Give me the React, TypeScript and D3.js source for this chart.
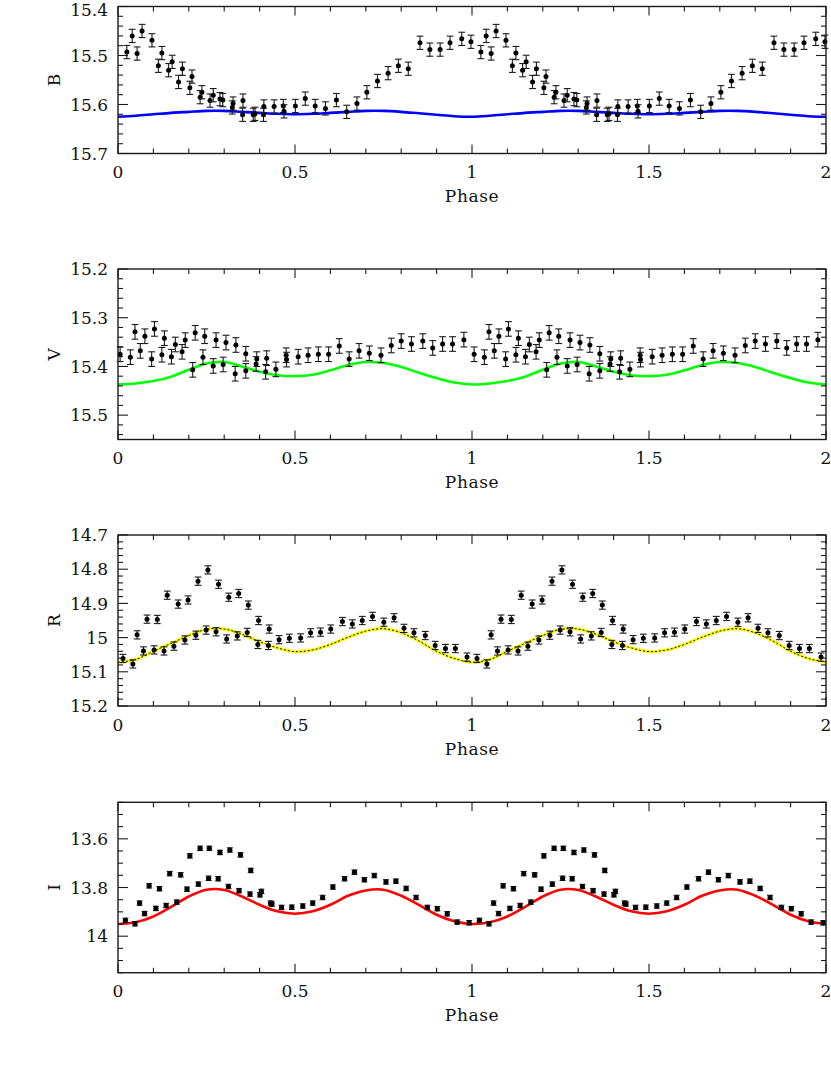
import React from "react";
import * as d3 from "d3";

const W = 831;
const H = 1092;
const X0 = 118;
const X1 = 826;
const FONT = "DejaVu Serif";

// phase-folded photometry, one cycle; the plot shows it twice (0-1 and 1-2)
const phaseB = [0.025, 0.04, 0.054, 0.068, 0.096, 0.114, 0.124, 0.143, 0.153, 0.171, 0.182, 0.203, 0.209, 0.232, 0.237, 0.26, 0.269, 0.288, 0.296, 0.323, 0.325, 0.352, 0.353, 0.382, 0.387, 0.411, 0.412, 0.441, 0.467, 0.469, 0.501, 0.529, 0.557, 0.586, 0.617, 0.646, 0.675, 0.703, 0.733, 0.763, 0.792, 0.82, 0.853, 0.881, 0.91, 0.938, 0.971, 0.997];
const magB = [15.493, 15.46, 15.496, 15.45, 15.469, 15.521, 15.495, 15.53, 15.513, 15.554, 15.527, 15.566, 15.543, 15.585, 15.575, 15.592, 15.581, 15.589, 15.591, 15.606, 15.598, 15.621, 15.592, 15.621, 15.619, 15.621, 15.604, 15.604, 15.603, 15.614, 15.603, 15.588, 15.603, 15.608, 15.591, 15.615, 15.598, 15.575, 15.552, 15.536, 15.521, 15.527, 15.474, 15.488, 15.488, 15.474, 15.466, 15.472];

const phaseV = [0.006, 0.035, 0.048, 0.063, 0.076, 0.095, 0.103, 0.124, 0.131, 0.151, 0.162, 0.181, 0.19, 0.211, 0.218, 0.24, 0.245, 0.269, 0.277, 0.297, 0.305, 0.331, 0.333, 0.361, 0.361, 0.39, 0.392, 0.417, 0.42, 0.446, 0.475, 0.476, 0.509, 0.537, 0.566, 0.595, 0.625, 0.653, 0.681, 0.71, 0.743, 0.772, 0.8, 0.829, 0.861, 0.889, 0.917, 0.945, 0.977];
const magV = [15.375, 15.381, 15.329, 15.368, 15.338, 15.385, 15.323, 15.376, 15.342, 15.38, 15.355, 15.37, 15.346, 15.407, 15.331, 15.381, 15.338, 15.399, 15.346, 15.396, 15.351, 15.415, 15.356, 15.409, 15.374, 15.395, 15.385, 15.411, 15.383, 15.406, 15.377, 15.386, 15.38, 15.377, 15.375, 15.375, 15.358, 15.385, 15.368, 15.373, 15.377, 15.357, 15.348, 15.354, 15.348, 15.362, 15.354, 15.354, 15.345];

const phaseR = [0.014, 0.042, 0.054, 0.072, 0.082, 0.102, 0.111, 0.13, 0.139, 0.158, 0.17, 0.189, 0.198, 0.22, 0.226, 0.249, 0.254, 0.277, 0.284, 0.307, 0.313, 0.337, 0.341, 0.365, 0.368, 0.395, 0.397, 0.425, 0.427, 0.455, 0.484, 0.516, 0.544, 0.572, 0.601, 0.634, 0.662, 0.69, 0.719, 0.751, 0.78, 0.808, 0.836, 0.868, 0.896, 0.925, 0.953, 0.986];
const magR = [15.061, 15.077, 14.992, 15.039, 14.946, 15.036, 14.947, 15.039, 14.876, 15.025, 14.902, 15.007, 14.89, 14.993, 14.835, 14.978, 14.802, 14.983, 14.844, 15.004, 14.882, 14.995, 14.871, 14.985, 14.905, 15.02, 14.95, 15.023, 14.975, 15.006, 15.002, 15.001, 14.986, 14.984, 14.975, 14.953, 14.96, 14.95, 14.938, 14.955, 14.942, 14.973, 14.986, 14.994, 15.023, 15.032, 15.032, 15.057];

const phaseI = [0.021, 0.048, 0.061, 0.075, 0.088, 0.107, 0.117, 0.136, 0.146, 0.166, 0.177, 0.195, 0.203, 0.227, 0.232, 0.256, 0.258, 0.283, 0.288, 0.312, 0.316, 0.342, 0.346, 0.373, 0.375, 0.401, 0.405, 0.431, 0.435, 0.462, 0.491, 0.522, 0.55, 0.578, 0.607, 0.64, 0.668, 0.696, 0.724, 0.757, 0.785, 0.814, 0.842, 0.874, 0.902, 0.93, 0.958, 0.992];
const magI = [13.935, 13.949, 13.864, 13.907, 13.793, 13.886, 13.805, 13.874, 13.743, 13.86, 13.748, 13.807, 13.67, 13.786, 13.639, 13.762, 13.639, 13.764, 13.656, 13.796, 13.646, 13.813, 13.666, 13.827, 13.73, 13.83, 13.816, 13.864, 13.868, 13.882, 13.881, 13.876, 13.864, 13.841, 13.798, 13.764, 13.737, 13.768, 13.751, 13.777, 13.774, 13.804, 13.841, 13.882, 13.887, 13.908, 13.942, 13.945];

// model light curves, sampled every 0.05 in phase
const modelPhase = [0, 0.05, 0.1, 0.15, 0.2, 0.25, 0.3, 0.35, 0.4, 0.45, 0.5, 0.55, 0.6, 0.65, 0.7, 0.75, 0.8, 0.85, 0.9, 0.95, 1];
const modelB = [15.625, 15.623, 15.62, 15.617, 15.615, 15.613, 15.613, 15.615, 15.617, 15.619, 15.62, 15.619, 15.617, 15.615, 15.613, 15.613, 15.615, 15.618, 15.621, 15.624, 15.625];
const modelV = [15.437, 15.435, 15.43, 15.421, 15.407, 15.394, 15.391, 15.4, 15.411, 15.418, 15.42, 15.417, 15.408, 15.397, 15.391, 15.393, 15.401, 15.413, 15.424, 15.433, 15.437];
const modelR = [15.072, 15.064, 15.04, 15.017, 14.994, 14.976, 14.975, 14.99, 15.012, 15.03, 15.041, 15.036, 15.02, 14.999, 14.981, 14.974, 14.986, 15.01, 15.04, 15.061, 15.072];
const modelI = [13.95, 13.943, 13.919, 13.88, 13.837, 13.809, 13.81, 13.837, 13.871, 13.898, 13.908, 13.898, 13.871, 13.834, 13.812, 13.809, 13.834, 13.871, 13.912, 13.939, 13.95];

const xMajor = [0, 0.5, 1, 1.5, 2];

const panels = [
  { label: "B", phase: phaseB, mag: magB, err: 0.0135, model: modelB, color: "#0000ff", domain: [15.4, 15.7], major: [15.4, 15.5, 15.6, 15.7], minor: 0.02, top: 6.5, bottom: 153.5, cap: 3.4, r: 2.5 },
  { label: "V", phase: phaseV, mag: magV, err: 0.015, model: modelV, color: "#00ff00", domain: [15.2, 15.55], major: [15.2, 15.3, 15.4, 15.5], minor: 0.02, top: 269, bottom: 439.5, cap: 3.4, r: 2.5 },
  { label: "R", phase: phaseR, mag: magR, err: 0.012, model: modelR, color: "#ffff00", dashed: true, domain: [14.7, 15.2], major: [14.7, 14.8, 14.9, 15, 15.1, 15.2], minor: 0.02, top: 535, bottom: 706, cap: 3.4, r: 2.5 },
  { label: "I", phase: phaseI, mag: magI, err: 0.009, model: modelI, color: "#ff0000", domain: [13.45, 14.15], major: [13.6, 13.8, 14], minor: 0.05, top: 802.3, bottom: 972.7, cap: 3, r: 2.6 },
];

const fmt = (v: number) => String(+v.toFixed(2));

function Panel({ p }: { p: any }) {
  const x = d3.scaleLinear().domain([0, 2]).range([X0, X1]);
  const y = d3.scaleLinear().domain(p.domain).range([p.top, p.bottom]);

  const pts = p.phase.flatMap((ph: number, i: number) => [
    { ph, m: p.mag[i] },
    { ph: ph + 1, m: p.mag[i] },
  ]);

  const mPh = [...modelPhase, ...modelPhase.slice(1).map((v) => v + 1)];
  const mMag = [...p.model, ...p.model.slice(1)];
  const line = d3
    .line<number>()
    .x((_, i) => x(mPh[i]))
    .y((d) => y(d))
    .curve(d3.curveCatmullRom);
  const path = line(mMag) || "";

  const xMinor = d3.range(0, 2.0001, 0.1);
  const yMinor = d3.range(p.domain[0], p.domain[1] + 1e-6, p.minor);

  const ink = "#1a1a1a";
  return (
    <g>
      {/* curve */}
      <path d={path} fill="none" stroke={p.color} strokeWidth={p.dashed ? 3.2 : 2.6} />
      {p.dashed && (
        <path d={path} fill="none" stroke="#000" strokeWidth={1} strokeDasharray="2,2" />
      )}

      {/* data with error bars */}
      {pts.map((d: any, i: number) => {
        const cx = x(d.ph);
        const y1 = y(d.m - p.err);
        const y2 = y(d.m + p.err);
        return (
          <g key={i} stroke={ink} strokeWidth={1.1}>
            <line x1={cx} x2={cx} y1={y1} y2={y2} />
            <line x1={cx - p.cap} x2={cx + p.cap} y1={y1} y2={y1} />
            <line x1={cx - p.cap} x2={cx + p.cap} y1={y2} y2={y2} />
            <circle cx={cx} cy={y(d.m)} r={p.r} fill="#000" stroke="none" />
          </g>
        );
      })}

      {/* frame */}
      <rect x={X0} y={p.top} width={X1 - X0} height={p.bottom - p.top} fill="none" stroke={ink} strokeWidth={1.4} />

      {/* x ticks, top and bottom */}
      {xMinor.map((t, i) => {
        const big = xMajor.some((m) => Math.abs(m - t) < 1e-6);
        const len = big ? 9 : 5;
        return (
          <g key={"x" + i} stroke={ink} strokeWidth={1.1}>
            <line x1={x(t)} x2={x(t)} y1={p.bottom} y2={p.bottom - len} />
            <line x1={x(t)} x2={x(t)} y1={p.top} y2={p.top + len} />
          </g>
        );
      })}
      {/* y ticks, left and right */}
      {yMinor.map((t, i) => {
        const big = p.major.some((m: number) => Math.abs(m - t) < 1e-6);
        const len = big ? 10 : 5;
        return (
          <g key={"y" + i} stroke={ink} strokeWidth={1.1}>
            <line x1={X0} x2={X0 + len} y1={y(t)} y2={y(t)} />
            <line x1={X1} x2={X1 - len} y1={y(t)} y2={y(t)} />
          </g>
        );
      })}

      {/* labels */}
      <g fontFamily={FONT} fontSize={17} fill="#111">
        {xMajor.map((t) => (
          <text key={"xl" + t} x={x(t)} y={p.bottom + 24.5} textAnchor="middle">
            {fmt(t)}
          </text>
        ))}
        {p.major.map((t: number) => (
          <text key={"yl" + t} x={X0 - 10} y={Math.max(y(t), 9.5)} dy="0.36em" textAnchor="end">
            {fmt(t)}
          </text>
        ))}
        <text x={(X0 + X1) / 2} y={p.bottom + 48.5} textAnchor="middle" letterSpacing={0.6}>
          Phase
        </text>
        <text
          transform={`translate(60,${(p.top + p.bottom) / 2}) rotate(-90)`}
          textAnchor="middle"
        >
          {p.label}
        </text>
      </g>
    </g>
  );
}

export default function App() {
  return (
    <svg
      width={W}
      height={H}
      style={{ position: "absolute", left: 0, top: 0, background: "#fff" }}
    >
      {panels.map((p) => (
        <Panel key={p.label} p={p} />
      ))}
    </svg>
  );
}
